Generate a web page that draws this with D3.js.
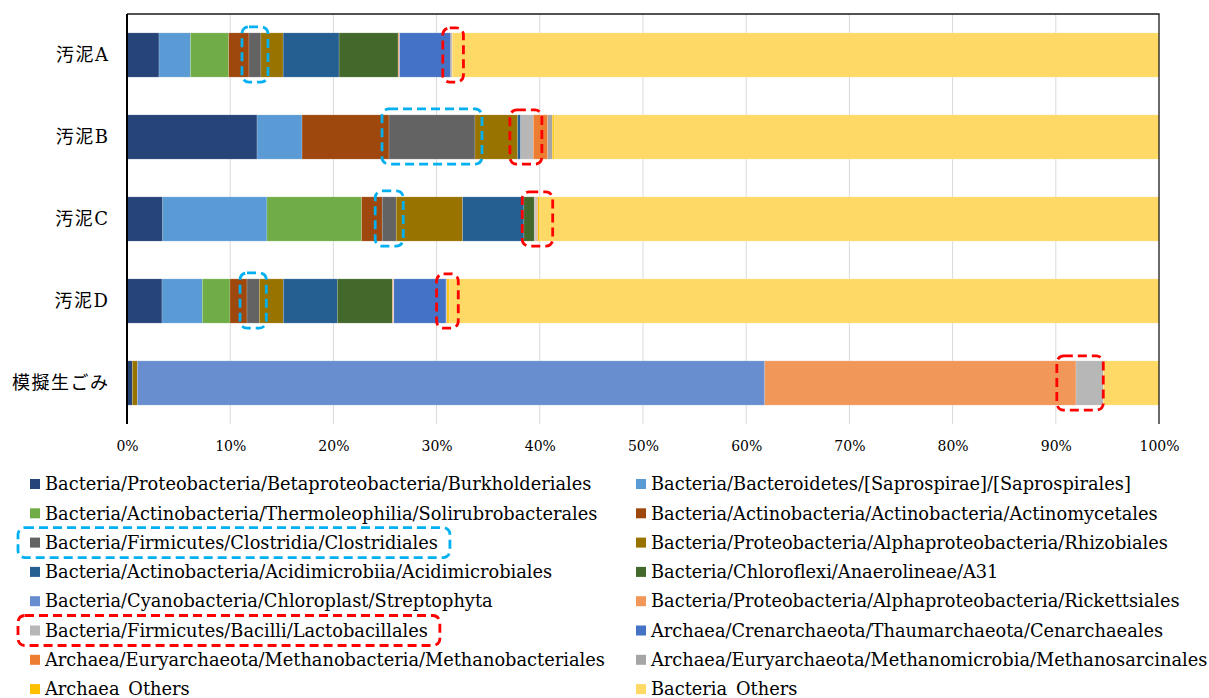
<!DOCTYPE html>
<html>
<head>
<meta charset="utf-8">
<script src="https://cdn.jsdelivr.net/npm/d3@7"></script>
<style>
  body { margin: 0; background: #ffffff; }
  svg { display: block; }
  text { font-family: "DejaVu Serif", "Noto Sans CJK JP", serif; fill: #000; }
</style>
</head>
<body>
<svg id="chart" width="1209" height="698"></svg>
<script>
// Samples (bars, top to bottom)
const categories = ["汚泥A", "汚泥B", "汚泥C", "汚泥D", "模擬生ごみ"];

// Taxa, in stacking / legend order
const seriesNames = [
  "Bacteria/Proteobacteria/Betaproteobacteria/Burkholderiales",
  "Bacteria/Bacteroidetes/[Saprospirae]/[Saprospirales]",
  "Bacteria/Actinobacteria/Thermoleophilia/Solirubrobacterales",
  "Bacteria/Actinobacteria/Actinobacteria/Actinomycetales",
  "Bacteria/Firmicutes/Clostridia/Clostridiales",
  "Bacteria/Proteobacteria/Alphaproteobacteria/Rhizobiales",
  "Bacteria/Actinobacteria/Acidimicrobiia/Acidimicrobiales",
  "Bacteria/Chloroflexi/Anaerolineae/A31",
  "Bacteria/Cyanobacteria/Chloroplast/Streptophyta",
  "Bacteria/Proteobacteria/Alphaproteobacteria/Rickettsiales",
  "Bacteria/Firmicutes/Bacilli/Lactobacillales",
  "Archaea/Crenarchaeota/Thaumarchaeota/Cenarchaeales",
  "Archaea/Euryarchaeota/Methanobacteria/Methanobacteriales",
  "Archaea/Euryarchaeota/Methanomicrobia/Methanosarcinales",
  "Archaea_Others",
  "Bacteria_Others"
];

const seriesColors = [
  "#264478", "#5B9BD5", "#70AD47", "#9E480E", "#636363", "#997300",
  "#255E91", "#43682B", "#698ED0", "#F1975A", "#B7B7B7", "#4472C4",
  "#ED7D31", "#A5A5A5", "#FFC000", "#FFD966"
];

// Relative abundance (%) of each taxon, one array per sample, in seriesNames order
const valuesA    = [3.10, 3.05, 3.70, 1.97, 1.16, 2.15, 5.42, 5.72, 0.00, 0.10, 0.05, 4.95, 0.05, 0.10, 0.05, 68.43];
const valuesB    = [12.60, 4.36, 0.00, 8.43, 8.33, 4.14, 0.29, 0.00, 0.00, 0.00, 1.22, 0.00, 1.40, 0.44, 0.17, 58.62];
const valuesC    = [3.46, 10.10, 9.17, 2.00, 1.36, 6.43, 5.94, 1.00, 0.00, 0.00, 0.16, 0.00, 0.08, 0.10, 0.20, 60.00];
const valuesD    = [3.39, 3.91, 2.68, 1.65, 1.19, 2.33, 5.23, 5.33, 0.00, 0.10, 0.05, 5.05, 0.05, 0.05, 0.20, 68.79];
const valuesFood = [0.52, 0.00, 0.00, 0.00, 0.00, 0.48, 0.00, 0.00, 60.80, 30.16, 2.64, 0.00, 0.00, 0.00, 0.00, 5.40];
const valuesByCategory = [valuesA, valuesB, valuesC, valuesD, valuesFood];

// Percentage axis
const tickValues = [0, 10, 20, 30, 40, 50, 60, 70, 80, 90, 100];
const tickLabels = ["0%", "10%", "20%", "30%", "40%", "50%", "60%", "70%", "80%", "90%", "100%"];

// Taxa called out with dashed frames
const cyanTaxon = "Bacteria/Firmicutes/Clostridia/Clostridiales";
const redTaxon = "Bacteria/Firmicutes/Bacilli/Lactobacillales";
// Extent (%) of the red frame on each bar
const redFrameFrom = [30.6, 37.1, 38.3, 30.0, 90.1];
const redFrameTo   = [32.6, 40.2, 41.25, 32.1, 94.6];

const CYAN = "#00B0F0", RED = "#FF0000";

const svg = d3.select("#chart");
const plot = { left: 127, right: 1159, top: 14, bottom: 424 };

const x = d3.scaleLinear().domain([0, 100]).range([plot.left, plot.right]);
const y = d3.scaleBand().domain(categories)
  .range([plot.top, plot.bottom]).paddingInner(0.46).paddingOuter(0.23);

// Vertical gridlines
svg.append("g")
  .selectAll("line")
  .data(tickValues.filter(v => v > 0 && v < 100))
  .join("line")
  .attr("x1", d => x(d)).attr("x2", d => x(d))
  .attr("y1", plot.top).attr("y2", plot.bottom)
  .attr("stroke", "#D9D9D9").attr("stroke-width", 1);

// Stacked bars
const rows = categories.map((c, i) => {
  const r = { category: c };
  seriesNames.forEach((s, j) => { r[s] = valuesByCategory[i][j]; });
  return r;
});
const stacked = d3.stack().keys(seriesNames)(rows);

svg.append("g")
  .selectAll("g")
  .data(stacked)
  .join("g")
  .attr("fill", (d, i) => seriesColors[i])
  .selectAll("rect")
  .data(d => d.filter(p => p[1] - p[0] > 0))
  .join("rect")
  .attr("x", d => x(d[0]))
  .attr("width", d => x(d[1]) - x(d[0]))
  .attr("y", d => y(d.data.category))
  .attr("height", y.bandwidth())
  .attr("stroke", "#ffffff").attr("stroke-opacity", 0.3).attr("stroke-width", 0.6);

// Plot frame: top and right edges, and the category axis line
svg.append("path")
  .attr("d", `M${plot.left},${plot.top}H${plot.right}V${plot.bottom}`)
  .attr("fill", "none").attr("stroke", "#1a1a1a").attr("stroke-width", 1.3);
svg.append("line")
  .attr("x1", plot.left).attr("x2", plot.left)
  .attr("y1", plot.top).attr("y2", plot.bottom)
  .attr("stroke", "#000").attr("stroke-width", 2);

// Percentage axis labels
const xAxis = svg.append("g")
  .attr("transform", `translate(0,${plot.bottom})`)
  .call(d3.axisBottom(x).tickValues(tickValues)
    .tickFormat((d, i) => tickLabels[i]).tickSize(0).tickPadding(17));
xAxis.select(".domain").remove();
xAxis.selectAll("text").style("font-size", "14px")
  .style("font-family", "'DejaVu Serif', serif").attr("fill", "#000");

// Sample labels
const yAxis = svg.append("g")
  .attr("transform", `translate(${plot.left},0)`)
  .call(d3.axisLeft(y).tickSize(0).tickPadding(17.5));
yAxis.select(".domain").remove();
yAxis.selectAll("text").style("font-size", "18px").style("letter-spacing", "1.5px")
  .style("font-family", "'DejaVu Serif', 'Noto Sans CJK JP', serif").attr("fill", "#000");

// Dashed call-out frames on the bars
function frame(g, x0, x1, y0, y1, color) {
  g.append("rect")
    .attr("x", x0).attr("y", y0)
    .attr("width", x1 - x0).attr("height", y1 - y0)
    .attr("rx", 7).attr("ry", 7)
    .attr("fill", "none").attr("stroke", color)
    .attr("stroke-width", 2.8).attr("stroke-dasharray", "9,5");
}
const frames = svg.append("g");
const cyanIdx = seriesNames.indexOf(cyanTaxon);
stacked[cyanIdx].forEach((p, i) => {
  if (p[1] - p[0] <= 0 || i >= 4) return;
  const top = y(p.data.category);
  frame(frames, x(p[0]) - 7, x(p[1]) + 7, top - 6, top + y.bandwidth() + 5, CYAN);
});
categories.forEach((c, i) => {
  const top = y(c);
  frame(frames, x(redFrameFrom[i]), x(redFrameTo[i]), top - 5, top + y.bandwidth() + 5, RED);
});

// Legend: two columns, filled row by row
const legend = svg.append("g");
const legendCols = [30, 636];
const legendTop = 484, legendStep = 29.3;
seriesNames.forEach((name, i) => {
  const col = i % 2, row = Math.floor(i / 2);
  const cy = legendTop + row * legendStep;
  const g = legend.append("g").attr("transform", `translate(${legendCols[col]},${cy})`);
  g.append("rect").attr("x", 0).attr("y", -5).attr("width", 10).attr("height", 10)
    .attr("fill", seriesColors[i]);
  const t = g.append("text").attr("x", 15).attr("y", 0).attr("dy", "0.35em")
    .style("font-size", "17.8px").text(name);
  if (name === cyanTaxon || name === redTaxon) {
    const w = t.node().getComputedTextLength();
    const color = name === cyanTaxon ? CYAN : RED;
    frame(legend, legendCols[col] - 12, legendCols[col] + 15 + w + 12, cy - 15, cy + 15, color);
  }
});
</script>
</body>
</html>
